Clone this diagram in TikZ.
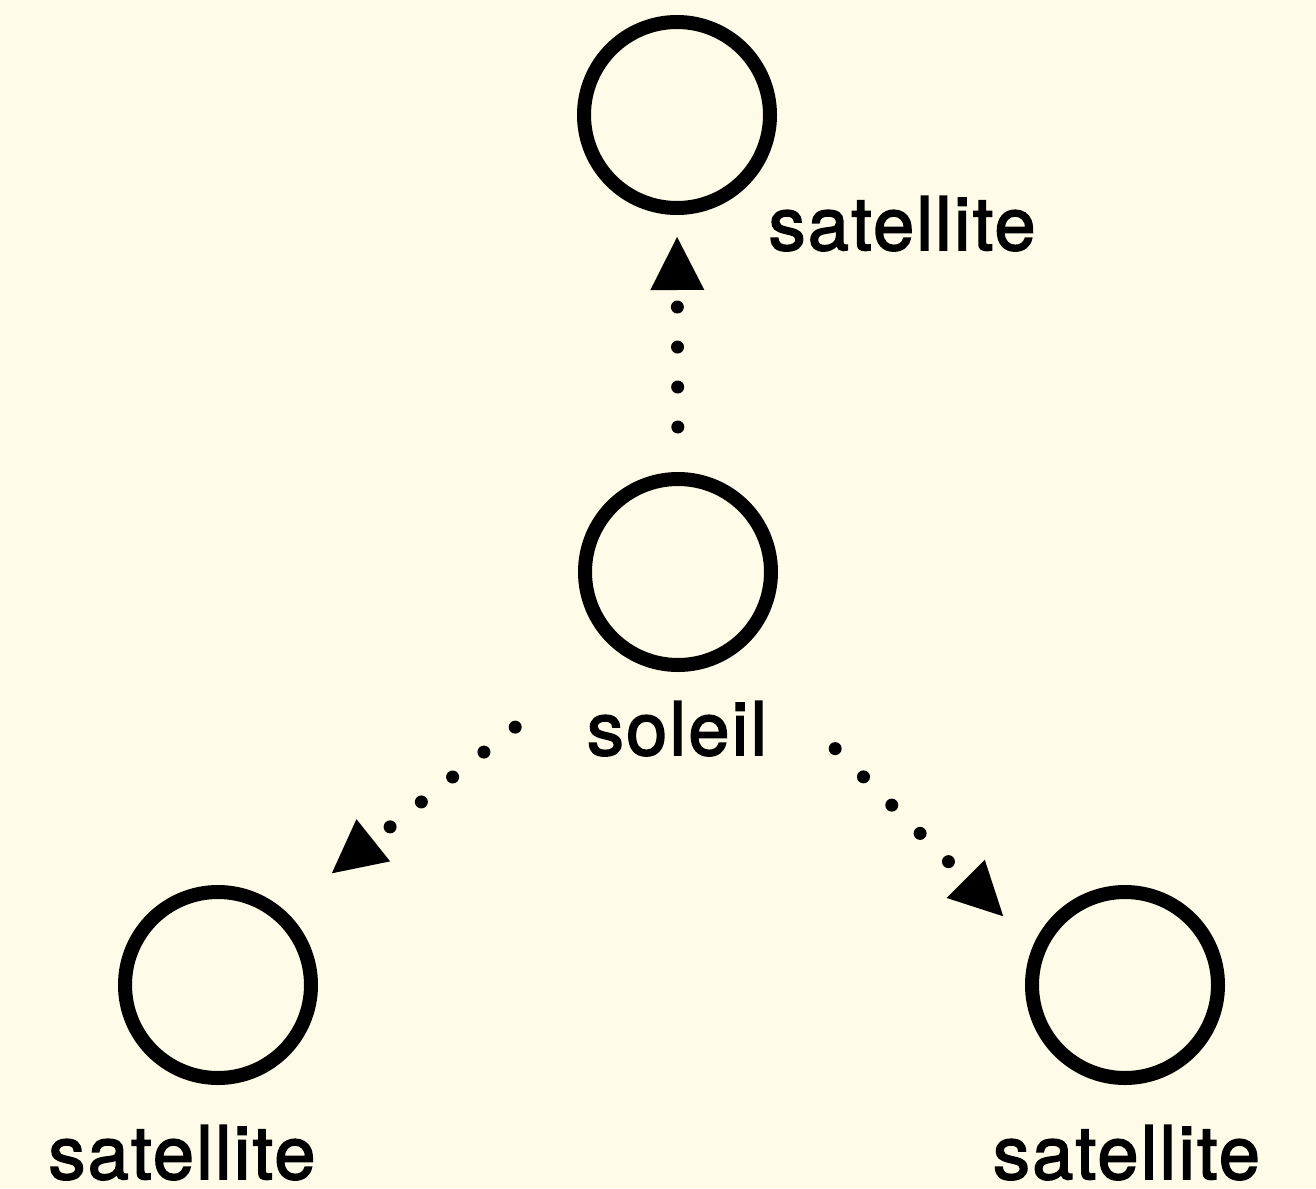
\documentclass[tikz,border=0pt]{standalone}
\usepackage{fontspec}
\setmainfont{TeX Gyre Heros}[FakeBold=2.2, LetterSpace=3.2]
\usetikzlibrary{arrows.meta, calc}
\usetikzlibrary{positioning}
\definecolor{cream}{HTML}{FEFBE8}

\begin{document}
\begin{tikzpicture}[
    body/.style={circle, draw, line width=0.14cm, minimum size=1.86cm, inner sep=0pt},
    bodylabel/.style={inner sep=0pt, text depth=0pt, font=\fontsize{21pt}{21pt}\selectfont},
    orbit/.style={line width=0.13cm, line cap=round, dash pattern=on 0pt off 0.4cm,
        -{Triangle[length=0.53cm, width=0.54cm, line width=0pt]}}]
    \fill[cream] (0,0) rectangle (13.16,11.88);
    \useasboundingbox (0,0) rectangle (13.16,11.88);
    % bodies
    \node[body] at (6.78,6.16) (sun) {};
    \node[body] at (6.77,10.73) (top) {};
    \node[body] at (2.18,2.03) (left) {};
    \node[body] at (11.25,2.03) (right) {};
    % names
    \node[bodylabel, anchor=base west] at (7.68,9.38) (toplabel) {satellite};
    \node[bodylabel, anchor=base] at (6.77,4.33) (sunlabel) {soleil};
    \node[bodylabel, anchor=base] at (1.82,0.09) (leftlabel) {satellite};
    \node[bodylabel, anchor=base] at (11.265,0.09) (rightlabel) {satellite};
    % orbits
    \draw[orbit, shorten <=0.45cm, shorten >=0.22cm] (sun.90) -- (top.270);
    \draw[orbit, shorten <=1.26cm, shorten >=0.60cm] (sun.230) -- (left.48);
    \draw[orbit, shorten <=1.37cm, shorten >=0.42cm] (sun.307) -- (right.157);
\end{tikzpicture}
\end{document}
